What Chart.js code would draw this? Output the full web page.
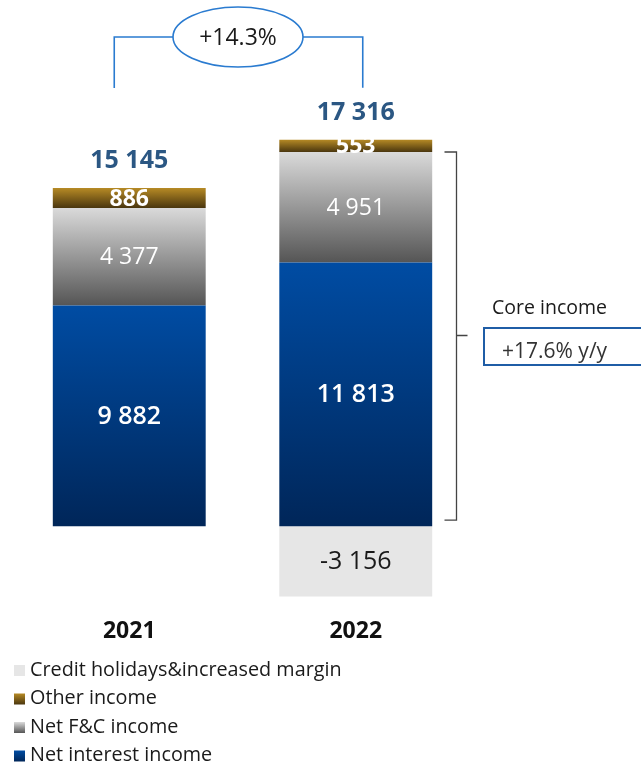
<!DOCTYPE html>
<html lang="en">
<head>
    <meta charset="UTF-8">
    <title>Income structure 2021-2022</title>
    <script src="https://cdn.jsdelivr.net/npm/chart.js"></script>
    <style>
        html, body { margin: 0; padding: 0; background: #fff; }
        #wrap { position: relative; width: 641px; height: 766px; }
    </style>
</head>
<body>
    <div id="wrap"><canvas id="incomeChart"></canvas></div>

    <script>
        // Income components, PLN m
        const categories = ['2021', '2022'];
        const netInterest = [9882, 11813];
        const netFeeCommission = [4377, 4951];
        const otherIncome = [886, 553];
        const creditHolidays = [null, -3156];
        const totals = [15145, 17316];
        const totalGrowth = '+14.3%';
        const coreGrowth = '+17.6% y/y';

        const FONT = "'Open Sans', 'Noto Sans', sans-serif";

        const fmt = v => (v < 0 ? '-' : '') + Math.abs(v).toString().replace(/\B(?=(\d{3})+(?!\d))/g, ' ');

        // vertical gradient spanning each stacked segment
        function segmentGradient(top, bottom) {
            return (ctx) => {
                const chart = ctx.chart;
                const y = chart.scales.y;
                if (!chart.chartArea || !y || ctx.type !== 'data') return top;
                const i = ctx.dataIndex;
                let start = 0;
                for (let d = 0; d < ctx.datasetIndex; d++) {
                    const v = chart.data.datasets[d].data[i];
                    if (v > 0) start += v;
                }
                const end = start + ctx.raw;
                const y0 = y.getPixelForValue(end);
                const y1 = y.getPixelForValue(start);
                if (!isFinite(y0) || !isFinite(y1) || y0 === y1) return top;
                const g = chart.ctx.createLinearGradient(0, y0, 0, y1);
                g.addColorStop(0, top);
                g.addColorStop(1, bottom);
                return g;
            };
        }

        const palette = {
            blue: ['#004ca3', '#002659'],
            gray: ['#dadada', '#555555'],
            gold: ['#b68a25', '#4a360e'],
            light: '#e6e6e6'
        };

        // labels inside segments, totals, axis years
        const labelsPlugin = {
            id: 'labels',
            afterDatasetsDraw(chart) {
                const c = chart.ctx;
                c.save();
                c.textAlign = 'center';
                c.textBaseline = 'middle';
                chart.data.datasets.forEach((ds, di) => {
                    const meta = chart.getDatasetMeta(di);
                    meta.data.forEach((el, i) => {
                        const v = ds.data[i];
                        if (v == null) return;
                        c.fillStyle = ds.labelColor;
                        c.font = ds.labelFont;
                        c.fillText(fmt(v), el.x, (el.y + el.base) / 2 + 1);
                    });
                });
                const x = chart.scales.x;
                const top = chart.getDatasetMeta(2).data;
                c.fillStyle = '#2b5783';
                c.font = 'bold 25px ' + FONT;
                totals.forEach((t, i) => {
                    c.fillText(fmt(t), x.getPixelForValue(i), top[i].y - 27);
                });
                c.fillStyle = '#111';
                c.font = 'bold 23px ' + FONT;
                categories.forEach((cat, i) => {
                    c.fillText(cat, x.getPixelForValue(i), 631);
                });
                c.restore();
            }
        };

        // growth bubble, core income bracket and legend
        const notesPlugin = {
            id: 'notes',
            afterDraw(chart) {
                const c = chart.ctx;
                const x = chart.scales.x;
                const bars = chart.getDatasetMeta(2).data;
                const xl = x.getPixelForValue(0) - 15, xr = x.getPixelForValue(1) + 7;
                c.save();

                // +14.3% bubble
                const cx = 238, cy = 37;
                c.strokeStyle = '#2a7bd0';
                c.lineWidth = 1.6;
                c.beginPath();
                c.ellipse(cx, cy, 65, 30, 0, 0, Math.PI * 2);
                c.stroke();
                c.beginPath();
                c.moveTo(cx - 65, cy); c.lineTo(xl, cy); c.lineTo(xl, bars[0].y - 100);
                c.moveTo(cx + 65, cy); c.lineTo(xr, cy); c.lineTo(xr, bars[1].y - 52);
                c.stroke();
                c.fillStyle = '#1a1a1a';
                c.font = '23px ' + FONT;
                c.textAlign = 'center';
                c.textBaseline = 'middle';
                c.fillText(totalGrowth, cx, cy + 1);

                // core income bracket
                const bTop = chart.getDatasetMeta(1).data[1].y;
                const bBot = chart.getDatasetMeta(0).data[1].base - 6;
                const bx = 456.5, mid = 335.5;
                c.strokeStyle = '#444';
                c.lineWidth = 1.3;
                c.beginPath();
                c.moveTo(bx - 12, bTop); c.lineTo(bx, bTop); c.lineTo(bx, bBot); c.lineTo(bx - 12, bBot);
                c.moveTo(bx, mid); c.lineTo(bx + 11, mid);
                c.stroke();

                c.textAlign = 'left';
                c.fillStyle = '#1a1a1a';
                c.font = '19.5px ' + FONT;
                c.fillText('Core income', 492, 308);
                c.strokeStyle = '#1f5da6';
                c.lineWidth = 2;
                c.strokeRect(484, 328, 170, 37);
                c.fillStyle = '#333';
                c.font = '21px ' + FONT;
                c.fillText(coreGrowth, 502, 352);

                // legend, one entry per line
                const items = [3, 2, 1, 0];
                c.font = '19.8px ' + FONT;
                items.forEach((di, row) => {
                    const ds = chart.data.datasets[di];
                    const ty = 670 + row * 28.5;
                    const sy = ty - 5;
                    if (ds.swatch.length === 2) {
                        const g = c.createLinearGradient(0, sy, 0, sy + 11);
                        g.addColorStop(0, ds.swatch[0]);
                        g.addColorStop(1, ds.swatch[1]);
                        c.fillStyle = g;
                    } else {
                        c.fillStyle = ds.swatch[0];
                    }
                    c.fillRect(14, sy, 11, 11);
                    c.fillStyle = '#1a1a1a';
                    c.fillText(ds.label, 30, ty);
                });
                c.restore();
            }
        };

        window.onload = function () {
            new Chart(document.getElementById('incomeChart'), {
                type: 'bar',
                data: {
                    labels: categories,
                    datasets: [
                        {
                            label: 'Net interest income',
                            data: netInterest,
                            backgroundColor: segmentGradient(...palette.blue),
                            swatch: palette.blue,
                            labelColor: '#fff',
                            labelFont: '600 25px ' + FONT
                        },
                        {
                            label: 'Net F&C income',
                            data: netFeeCommission,
                            backgroundColor: segmentGradient(...palette.gray),
                            swatch: palette.gray,
                            labelColor: '#fff',
                            labelFont: '23px ' + FONT
                        },
                        {
                            label: 'Other income',
                            data: otherIncome,
                            backgroundColor: segmentGradient(...palette.gold),
                            swatch: palette.gold,
                            labelColor: '#fff',
                            labelFont: 'bold 23px ' + FONT
                        },
                        {
                            label: 'Credit holidays&increased margin',
                            data: creditHolidays,
                            backgroundColor: palette.light,
                            swatch: [palette.light],
                            labelColor: '#1a1a1a',
                            labelFont: '25px ' + FONT
                        }
                    ]
                },
                options: {
                    responsive: true,
                    maintainAspectRatio: false,
                    animation: false,
                    layout: { padding: { top: 82, bottom: 166, left: 16, right: 172 } },
                    datasets: {
                        bar: { categoryPercentage: 1, barPercentage: 0.675, borderWidth: 0 }
                    },
                    scales: {
                        x: { display: false, stacked: true },
                        y: { display: false, stacked: true, min: -3310, max: 19900 }
                    },
                    plugins: {
                        legend: { display: false },
                        tooltip: { enabled: false }
                    }
                },
                plugins: [labelsPlugin, notesPlugin]
            });
        };
    </script>
</body>
</html>
